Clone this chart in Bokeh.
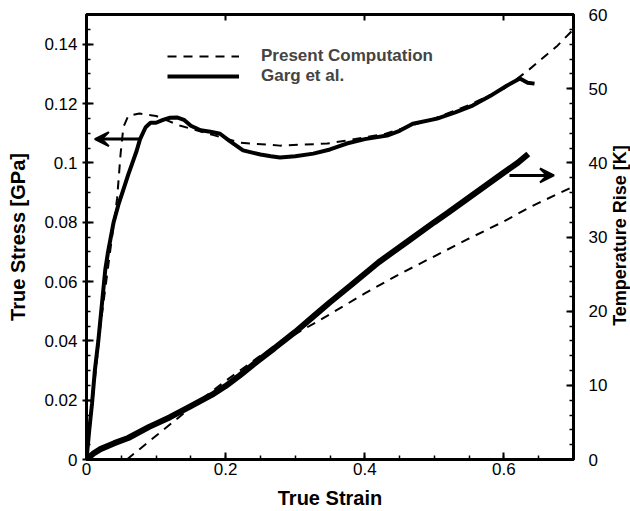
import math
from bokeh.plotting import figure
from bokeh.layouts import row
from bokeh.models import (Range1d, LinearAxis, Legend, LegendItem, Arrow, VeeHead,
                          FixedTicker, Label)
from bokeh.embed import file_html
from bokeh.resources import INLINE

# ---- data ----
garg_stress_strain = [0, 0.004, 0.008, 0.012, 0.017, 0.022, 0.027, 0.031, 0.039, 0.046,
                      0.053, 0.060, 0.066, 0.072, 0.077, 0.085, 0.092, 0.100, 0.110, 0.120,
                      0.130, 0.140, 0.150, 0.164, 0.178, 0.192, 0.205, 0.225, 0.250, 0.265,
                      0.278, 0.300, 0.326, 0.350, 0.374, 0.400, 0.432, 0.450, 0.469, 0.504,
                      0.530, 0.555, 0.580, 0.604, 0.623, 0.634, 0.644]
garg_stress = [0, 0.010, 0.019, 0.030, 0.040, 0.052, 0.064, 0.070, 0.080, 0.086,
               0.091, 0.096, 0.100, 0.104, 0.108, 0.112, 0.1135, 0.1135, 0.1145, 0.1152,
               0.1153, 0.1145, 0.1125, 0.1110, 0.1105, 0.1098, 0.1075, 0.1042, 0.1028, 0.1022,
               0.1018, 0.1022, 0.1031, 0.1045, 0.1065, 0.1080, 0.1092, 0.1108, 0.1132, 0.1149,
               0.1170, 0.1193, 0.1225, 0.1260, 0.1284, 0.1270, 0.1267]

comp_stress_strain = [0, 0.020, 0.035, 0.044, 0.049, 0.053, 0.060, 0.076, 0.100, 0.135,
                      0.180, 0.221, 0.278, 0.346, 0.374, 0.430, 0.500, 0.550, 0.600, 0.634,
                      0.677, 0.700]
comp_stress = [0, 0.045, 0.072, 0.088, 0.103, 0.112, 0.1158, 0.1166, 0.1158, 0.1125,
               0.1095, 0.1068, 0.1058, 0.1065, 0.1075, 0.1098, 0.1150, 0.1195, 0.1250, 0.1310,
               0.1395, 0.1450]

garg_temp_strain = [0, 0.010, 0.020, 0.040, 0.060, 0.090, 0.120, 0.150, 0.180, 0.200,
                    0.220, 0.245, 0.270, 0.300, 0.330, 0.350, 0.380, 0.420, 0.460, 0.500,
                    0.520, 0.560, 0.600, 0.620, 0.635]
garg_temp = [0, 0.8, 1.4, 2.2, 2.9, 4.4, 5.7, 7.2, 8.7, 9.9,
             11.3, 13.2, 15.0, 17.2, 19.6, 21.2, 23.5, 26.6, 29.3, 32.0,
             33.3, 36.0, 38.7, 40.0, 41.2]

comp_temp_strain = [0.058, 0.100, 0.150, 0.200, 0.250, 0.300, 0.326, 0.350, 0.400, 0.450,
                    0.500, 0.550, 0.600, 0.633, 0.650, 0.700]
comp_temp = [0, 3.2, 7.0, 10.6, 14.0, 16.9, 18.3, 19.6, 22.4, 25.0,
             27.4, 29.8, 32.1, 33.8, 34.6, 36.8]

x_ticks = [0, 0.2, 0.4, 0.6]
stress_ticks = [0, 0.02, 0.04, 0.06, 0.08, 0.1, 0.12, 0.14]
temp_ticks = [0, 10, 20, 30, 40, 50, 60]

# arrows indicating which axis each curve group belongs to (strain, value)
stress_arrow = dict(x_start=0.077, x_end=0.012, y=0.108)
temp_arrow = dict(x_start=0.608, x_end=0.672, y=38.3)

FONT = "Liberation Sans"

p = figure(width=610, height=511, output_backend="svg", toolbar_location=None,
           x_range=Range1d(0, 0.7), y_range=Range1d(0, 0.15),
           min_border_left=86, min_border_right=36, min_border_top=14, min_border_bottom=52,
           x_axis_location=None, y_axis_location=None)
p.extra_y_ranges = {"temp": Range1d(0, 60)}
p.grid.visible = False
p.outline_line_color = "black"
p.outline_line_width = 3
p.background_fill_color = "white"
p.border_fill_color = "white"

def style_axis(ax, ticks, minor, label=None, size="20px"):
    ax.ticker = FixedTicker(ticks=ticks, minor_ticks=minor)
    ax.axis_line_width = 3
    ax.axis_line_color = "black"
    ax.major_tick_line_width = 2
    ax.minor_tick_line_width = 1.5
    ax.major_tick_in = 7
    ax.major_tick_out = 0
    ax.minor_tick_in = 4
    ax.minor_tick_out = 0
    ax.major_label_text_font = FONT
    ax.major_label_text_font_size = "17px"
    ax.major_label_text_color = "black"
    if label:
        ax.axis_label = label
        ax.axis_label_text_font = FONT
        ax.axis_label_text_font_size = size
        ax.axis_label_text_font_style = "bold"
        ax.axis_label_text_color = "black"

xminor = [i * 0.05 for i in range(15)]
sminor = [i * 0.005 for i in range(31)]
tminor = [i * 2 for i in range(31)]

xb = LinearAxis()
style_axis(xb, x_ticks, xminor, "True Strain")
xb.major_label_overrides = {0: "0", 0.2: "0.2", 0.4: "0.4", 0.6: "0.6"}
xb.major_label_standoff = 3
xb.axis_label_standoff = 9
p.add_layout(xb, "below")

# top axis: ticks only (no labels)
xt = LinearAxis()
xt.ticker = FixedTicker(ticks=[], minor_ticks=x_ticks[1:])
xt.axis_line_width = 3
xt.minor_tick_line_width = 2
xt.minor_tick_in = 6
xt.minor_tick_out = 0
p.add_layout(xt, "above")

yl = LinearAxis()
style_axis(yl, stress_ticks, sminor, "True Stress [GPa]")
yl.major_label_overrides = {0: "0", 0.02: "0.02", 0.04: "0.04", 0.06: "0.06", 0.08: "0.08",
                            0.1: "0.1", 0.12: "0.12", 0.14: "0.14"}
yl.major_tick_out = 4
yl.axis_label_standoff = 12
p.add_layout(yl, "left")

yr = LinearAxis(y_range_name="temp")
style_axis(yr, temp_ticks, tminor)
yr.major_label_standoff = 15
p.add_layout(yr, "right")

r_cs = p.line(comp_stress_strain, comp_stress, line_color="black", line_width=2,
              line_dash="9 7")
r_gs = p.line(garg_stress_strain, garg_stress, line_color="black", line_width=4)
p.line(comp_temp_strain, comp_temp, y_range_name="temp", line_color="black", line_width=2,
       line_dash="9 7")
p.line(garg_temp_strain, garg_temp, y_range_name="temp", line_color="black", line_width=6)

p.add_layout(Arrow(end=VeeHead(size=14, line_width=2, fill_color="black"),
                   line_width=3, x_start=stress_arrow["x_start"], y_start=stress_arrow["y"],
                   x_end=stress_arrow["x_end"], y_end=stress_arrow["y"]))
p.add_layout(Arrow(end=VeeHead(size=14, line_width=2, fill_color="black"),
                   line_width=3, x_start=temp_arrow["x_start"], y_start=temp_arrow["y"],
                   x_end=temp_arrow["x_end"], y_end=temp_arrow["y"], y_range_name="temp"))

legend = Legend(items=[LegendItem(label="Present Computation", renderers=[r_cs]),
                       LegendItem(label="Garg et al.", renderers=[r_gs])],
                location=(81, 373), glyph_width=72, glyph_height=20, spacing=0,
                label_standoff=22, padding=0, margin=0,
                label_text_font=FONT, label_text_font_size="17px",
                label_text_font_style="bold", label_height=20,
                border_line_color=None, background_fill_alpha=0)
p.add_layout(legend, "center")

# narrow strip holding the right-axis title, reading bottom-to-top as in the reference
t = figure(width=20, height=511, output_backend="svg", toolbar_location=None,
           x_range=Range1d(0, 1), y_range=Range1d(0, 1),
           min_border=0, x_axis_location=None, y_axis_location=None)
t.grid.visible = False
t.outline_line_color = None
t.background_fill_color = "white"
t.border_fill_color = "white"
t.add_layout(Label(x=9, y=224, x_units="screen", y_units="screen",
                   text="Temperature Rise [K]", angle=math.pi / 2,
                   text_align="center", text_baseline="middle",
                   text_font=FONT, text_font_size="18px", text_font_style="bold",
                   text_color="black"))

layout = row(p, t, spacing=0)
open("out.html", "w").write(file_html(layout, INLINE))
